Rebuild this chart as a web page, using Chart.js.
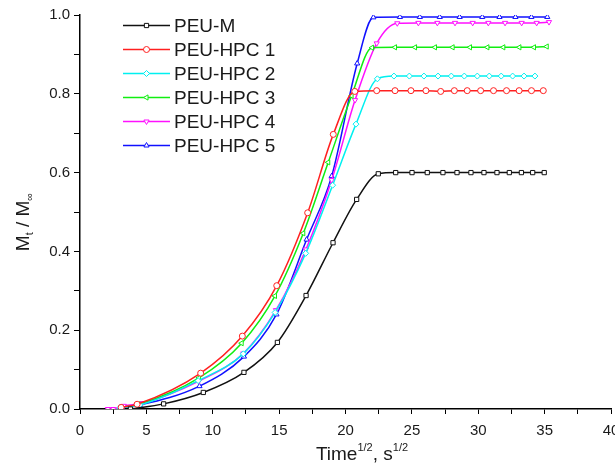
<!DOCTYPE html>
<html>
<head>
<meta charset="utf-8">
<script src="https://cdn.jsdelivr.net/npm/chart.js@4.4.1/dist/chart.umd.min.js"></script>
<style>
  html, body { margin: 0; padding: 0; background: #fff; overflow: hidden; }
  #wrap { width: 640px; height: 465px; }
</style>
</head>
<body>
<div id="wrap"><canvas id="chart" width="640" height="465"></canvas></div>
<script>
// series names and tick labels
const seriesNames = ["PEU-M", "PEU-HPC 1", "PEU-HPC 2", "PEU-HPC 3", "PEU-HPC 4", "PEU-HPC 5"];
const xTickLabels = ["0", "5", "10", "15", "20", "25", "30", "35", "40"];
const yTickLabels = ["0.0", "0.2", "0.4", "0.6", "0.8", "1.0"];

// values (x = time^1/2, y = Mt/Minf)
const mX = [3.8, 6.3, 9.29, 12.35, 14.87, 17.03, 19.06, 20.84, 22.47, 23.78, 25.01, 26.16, 27.34, 28.40, 29.45, 30.43, 31.41, 32.34, 33.25, 34.1, 34.97];
const mY = [0, 0.013, 0.042, 0.093, 0.169, 0.288, 0.422, 0.532, 0.597, 0.6, 0.6, 0.6, 0.6, 0.6, 0.6, 0.6, 0.6, 0.6, 0.6, 0.6, 0.6];

const hpc1X = [3.1, 4.3, 9.09, 12.23, 14.82, 17.15, 19.08, 20.7, 22.35, 23.73, 24.93, 26.06, 27.17, 28.2, 29.17, 30.18, 31.15, 32.13, 33.08, 34.01, 34.9];
const hpc1Y = [0.004, 0.012, 0.091, 0.185, 0.313, 0.498, 0.697, 0.806, 0.808, 0.808, 0.808, 0.808, 0.806, 0.808, 0.808, 0.808, 0.808, 0.808, 0.808, 0.808, 0.808];

const hpc2X = [3.0, 4.5, 8.9, 12.3, 14.7, 17.0, 19.03, 20.79, 22.4, 23.65, 24.81, 25.91, 26.97, 27.97, 28.95, 29.93, 30.83, 31.73, 32.59, 33.45, 34.27];
const hpc2Y = [0.003, 0.01, 0.072, 0.14, 0.245, 0.395, 0.568, 0.723, 0.838, 0.845, 0.845, 0.845, 0.845, 0.845, 0.845, 0.845, 0.845, 0.845, 0.845, 0.845, 0.845];

const hpc3X = [3.1, 4.4, 8.96, 12.18, 14.69, 16.82, 18.7, 20.46, 22.0, 23.73, 25.24, 26.74, 28.07, 29.38, 30.69, 31.89, 33.1, 34.2, 35.16];
const hpc3Y = [0.004, 0.012, 0.079, 0.167, 0.287, 0.446, 0.626, 0.795, 0.917, 0.918, 0.918, 0.918, 0.918, 0.918, 0.918, 0.918, 0.918, 0.918, 0.92];

const hpc4X = [2.1, 2.5, 3.3, 4.7, 8.96, 12.3, 14.76, 17.02, 18.96, 20.72, 22.35, 23.9, 25.49, 26.92, 28.25, 29.58, 30.76, 32.02, 33.27, 34.4, 35.33];
const hpc4Y = [0, 0, 0.008, 0.015, 0.071, 0.141, 0.251, 0.405, 0.581, 0.784, 0.928, 0.979, 0.98, 0.98, 0.98, 0.98, 0.98, 0.98, 0.98, 0.98, 0.982];

const hpc5X = [3.0, 4.5, 9.0, 12.35, 14.8, 17.07, 18.96, 20.88, 22.1, 24.1, 25.6, 27.1, 28.6, 30.3, 31.6, 32.8, 34.0, 35.2];
const hpc5Y = [0.003, 0.01, 0.058, 0.133, 0.24, 0.43, 0.591, 0.877, 0.994, 0.995, 0.995, 0.995, 0.995, 0.995, 0.995, 0.995, 0.995, 0.995];

const FONT = "'Liberation Sans', Arial, sans-serif";

function pts(xs, ys) {
  return xs.map((x, i) => ({ x: x, y: ys[i] }));
}

function makeSet(name, xs, ys, color, style, rot) {
  return {
    label: name,
    data: pts(xs, ys),
    borderColor: color,
    backgroundColor: "#fff",
    borderWidth: 1.5,
    pointStyle: style,
    rotation: rot,
    pointRadius: 3,
    pointBorderWidth: 1,
    pointBorderColor: color,
    pointBackgroundColor: "#fff",
    cubicInterpolationMode: "monotone",
    fill: false
  };
}

const datasets = [
  makeSet(seriesNames[0], mX, mY, "#111111", "rect", 0),
  makeSet(seriesNames[1], hpc1X, hpc1Y, "#ff2020", "circle", 0),
  makeSet(seriesNames[2], hpc2X, hpc2Y, "#00f0f0", "rectRot", 0),
  makeSet(seriesNames[3], hpc3X, hpc3Y, "#10ee10", "triangle", -90),
  makeSet(seriesNames[4], hpc4X, hpc4Y, "#ff10ff", "triangle", 180),
  makeSet(seriesNames[5], hpc5X, hpc5Y, "#1010ff", "triangle", 0)
];

// legend drawn inside the plot like the original
const legendBox = {
  id: "legendBox",
  afterDatasetsDraw(chart) {
    const ctx = chart.ctx;
    ctx.save();
    chart.data.datasets.forEach((ds, i) => {
      const y = 25.5 + i * 24;
      ctx.strokeStyle = ds.borderColor;
      ctx.lineWidth = 1.5;
      ctx.beginPath();
      ctx.moveTo(123, y);
      ctx.lineTo(170, y);
      ctx.stroke();
      ctx.fillStyle = "#fff";
      ctx.lineWidth = 1;
      Chart.helpers.drawPoint(ctx, { pointStyle: ds.pointStyle, rotation: ds.rotation, radius: 3, borderWidth: 1 }, 146.5, y);
      ctx.fillStyle = "#1a1a1a";
      ctx.font = "19px " + FONT;
      ctx.textBaseline = "middle";
      ctx.textAlign = "left";
      ctx.fillText(ds.label, 174, y + 1);
    });
    ctx.restore();
  }
};

// axis titles with super/subscripts
function drawParts(ctx, parts, x, y) {
  parts.forEach(p => {
    ctx.font = p.size + "px " + FONT;
    ctx.fillText(p.t, x, y + p.dy);
    x += ctx.measureText(p.t).width;
  });
}
function partsWidth(ctx, parts) {
  let w = 0;
  parts.forEach(p => { ctx.font = p.size + "px " + FONT; w += ctx.measureText(p.t).width; });
  return w;
}

const axisTitles = {
  id: "axisTitles",
  afterDraw(chart) {
    const ctx = chart.ctx;
    ctx.save();
    ctx.fillStyle = "#1a1a1a";
    ctx.textBaseline = "alphabetic";
    ctx.textAlign = "left";
    const xParts = [
      { t: "Time", size: 19, dy: 0 },
      { t: "1/2", size: 11, dy: -9 },
      { t: ", s", size: 19, dy: 0 },
      { t: "1/2", size: 11, dy: -9 }
    ];
    const xw = partsWidth(ctx, xParts);
    drawParts(ctx, xParts, 362 - xw / 2, 460);

    const yParts = [
      { t: "M", size: 19, dy: 0 },
      { t: "t", size: 11, dy: 4 },
      { t: " / M", size: 19, dy: 0 },
      { t: "\u221e", size: 11, dy: 4 }
    ];
    const yw = partsWidth(ctx, yParts);
    ctx.translate(29, 222);
    ctx.rotate(-Math.PI / 2);
    drawParts(ctx, yParts, -yw / 2, 0);
    ctx.restore();
  }
};

new Chart(document.getElementById("chart"), {
  type: "line",
  data: { datasets: datasets },
  plugins: [legendBox, axisTitles],
  options: {
    responsive: false,
    animation: false,
    layout: { padding: { left: 0, right: 29, top: 15, bottom: 0 } },
    plugins: { legend: { display: false }, tooltip: { enabled: false } },
    scales: {
      x: {
        type: "linear",
        min: 0,
        max: 40,
        afterFit(s) { s.height = 56; s.paddingLeft = 0; s.paddingRight = 0; },
        border: { display: true, color: "#000", width: 1.5 },
        grid: { drawOnChartArea: false, color: "#000", tickLength: 5, tickWidth: 1 },
        ticks: {
          stepSize: 2.5,
          autoSkip: false,
          maxRotation: 0,
          padding: 8,
          color: "#1a1a1a",
          font: { family: FONT, size: 15 },
          callback: (v, i) => (i % 2 === 0 ? xTickLabels[i / 2] : "")
        }
      },
      y: {
        type: "linear",
        min: 0,
        max: 1,
        afterFit(s) { s.width = 80; s.paddingTop = 0; s.paddingBottom = 0; },
        border: { display: true, color: "#000", width: 1.5 },
        grid: { drawOnChartArea: false, color: "#000", tickLength: 6, tickWidth: 1 },
        ticks: {
          stepSize: 0.1,
          autoSkip: false,
          padding: 4,
          color: "#1a1a1a",
          font: { family: FONT, size: 15 },
          callback: (v, i) => (i % 2 === 0 ? yTickLabels[i / 2] : "")
        }
      }
    }
  }
});
</script>
</body>
</html>
